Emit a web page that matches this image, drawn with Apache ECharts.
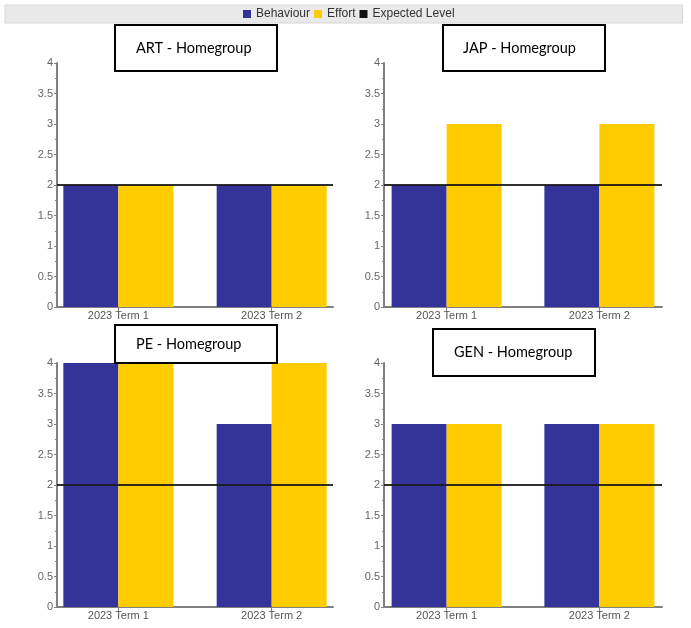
<!DOCTYPE html>
<html>
<head>
<meta charset="utf-8">
<script src="https://cdn.jsdelivr.net/npm/echarts@6/dist/echarts.min.js"></script>
<style>html,body{margin:0;padding:0;background:#fff;}#c{width:691px;height:628px;}</style>
</head>
<body>
<div id="c"></div>
<script>
// ---- data ----
const categories = ['2023 Term 1', '2023 Term 2'];
const subjects = ['ART - Homegroup', 'JAP - Homegroup', 'PE - Homegroup', 'GEN - Homegroup'];
const behaviourART = [2, 2];
const effortART = [2, 2];
const behaviourJAP = [2, 2];
const effortJAP = [3, 3];
const behaviourPE = [4, 3];
const effortPE = [4, 4];
const behaviourGEN = [3, 3];
const effortGEN = [3, 3];
const expectedLevel = [2, 2, 2, 2];
const yTicks = [0, 0.5, 1, 1.5, 2, 2.5, 3, 3.5, 4];

const behaviour = [behaviourART, behaviourJAP, behaviourPE, behaviourGEN];
const effort = [effortART, effortJAP, effortPE, effortGEN];

// ---- layout ----
const grids = [
  {left: 57, top: 63, width: 276, height: 244},
  {left: 384, top: 63, width: 278, height: 244},
  {left: 57, top: 363, width: 276, height: 244},
  {left: 384, top: 363, width: 278, height: 244}
];
const xRange = [[0.6, 2.4], [0.59, 2.41], [0.6, 2.4], [0.59, 2.41]];
const titleBoxes = [
  {left: 115, top: 25, padding: [14, 26, 14, 21]},
  {left: 443, top: 25, padding: [14, 29, 14, 20]},
  {left: 115, top: 325, padding: [10, 36, 10, 21]},
  {left: 433, top: 329, padding: [14, 23, 15, 21]}
];
const BLUE = '#333399', YELLOW = '#FFCC00';
const axisFont = 'Liberation Sans, Arial, sans-serif';
const catIdx = categories.map((c, i) => i + 1);

const option = {
  animation: false,
  backgroundColor: '#ffffff',
  legend: {
    left: 5, top: 5,
    padding: [3, 228, 3, 238],
    backgroundColor: '#e9e9e9',
    borderColor: '#d6d6d6', borderWidth: 1,
    itemWidth: 8, itemHeight: 8, itemGap: 4,
    icon: 'rect',
    textStyle: {fontFamily: axisFont, fontSize: 12, color: '#333'},
    data: [
      {name: 'Behaviour', itemStyle: {color: BLUE}},
      {name: 'Effort', itemStyle: {color: YELLOW}},
      {name: 'Expected Level', itemStyle: {color: '#111'}}
    ]
  },
  title: subjects.map((s, i) => ({
    text: s,
    left: titleBoxes[i].left, top: titleBoxes[i].top,
    padding: titleBoxes[i].padding,
    borderColor: '#000', borderWidth: 2, backgroundColor: '#fff',
    textStyle: {fontFamily: 'Lato, Carlito, sans-serif', fontSize: 14.5, fontWeight: 'normal', color: '#000', lineHeight: 18},
    z: 10
  })),
  grid: grids,
  xAxis: grids.map((g, i) => ({
    type: 'value', gridIndex: i,
    min: xRange[i][0], max: xRange[i][1],
    splitLine: {show: false},
    axisLine: {show: true, onZero: false, lineStyle: {color: '#808080', width: 2}},
    axisTick: {show: true, customValues: catIdx, length: 4, lineStyle: {color: '#808080', width: 1}},
    axisLabel: {
      customValues: catIdx, margin: 3,
      fontFamily: axisFont, fontSize: 11, color: '#555',
      formatter: v => categories[Math.round(v) - 1] || ''
    }
  })),
  yAxis: grids.map((g, i) => ({
    type: 'value', gridIndex: i,
    min: yTicks[0], max: yTicks[yTicks.length - 1], interval: 0.5,
    splitLine: {show: false},
    axisLine: {show: true, lineStyle: {color: '#808080', width: 2}},
    axisTick: {show: true, length: 3, lineStyle: {color: '#808080'}},
    minorTick: {show: true, splitNumber: 2, length: 2, lineStyle: {color: '#808080'}},
    axisLabel: {margin: 4, fontFamily: axisFont, fontSize: 11, color: '#666'}
  })),
  series: []
};

for (let i = 0; i < 4; i++) {
  option.series.push({
    name: 'Behaviour', type: 'bar', xAxisIndex: i, yAxisIndex: i,
    barWidth: 55, barGap: '0%',
    itemStyle: {color: BLUE},
    data: behaviour[i].map((v, k) => [catIdx[k], v])
  });
  option.series.push({
    name: 'Effort', type: 'bar', xAxisIndex: i, yAxisIndex: i,
    barWidth: 55, barGap: '0%',
    itemStyle: {color: YELLOW},
    data: effort[i].map((v, k) => [catIdx[k], v])
  });
  option.series.push({
    name: 'Expected Level', type: 'line', xAxisIndex: i, yAxisIndex: i,
    data: [],
    itemStyle: {color: '#111'},
    markLine: {
      silent: true, symbol: 'none', label: {show: false},
      lineStyle: {color: '#1a1a1a', width: 2, type: 'solid', opacity: 0.9},
      data: [{yAxis: expectedLevel[i]}]
    },
    z: 5
  });
}

const chart = echarts.init(document.getElementById('c'), null, {renderer: 'canvas'});
chart.setOption(option);
</script>
</body>
</html>
